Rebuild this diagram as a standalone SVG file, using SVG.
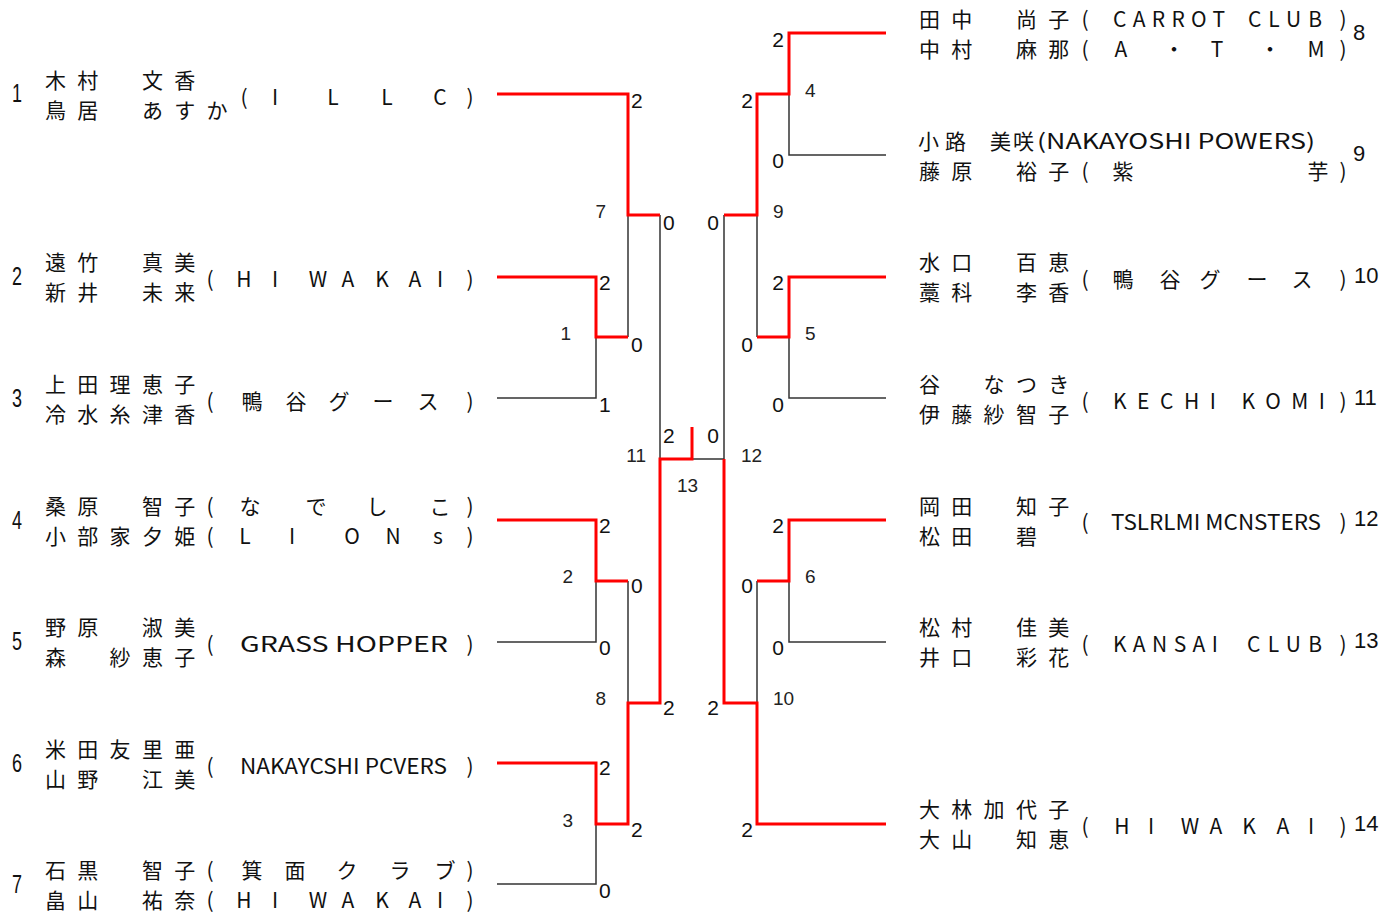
<svg xmlns="http://www.w3.org/2000/svg" width="1399" height="917" viewBox="0 0 1399 917">
<style>
.nm{font-family:"Noto Sans CJK JP","Noto Sans CJK SC",sans-serif;font-size:21px;fill:#111}
.tm{font-family:"Noto Sans CJK JP","Noto Sans CJK SC",sans-serif;font-size:21px;fill:#111;text-anchor:middle}
.tl{font-family:"Noto Sans CJK JP","Noto Sans CJK SC",sans-serif;font-size:21px;fill:#111}
.no{font-family:"Liberation Sans",Arial,sans-serif;font-size:25px;fill:#111}
.rn{font-family:"Liberation Sans",Arial,sans-serif;font-size:22px;fill:#111}
.sc{font-family:"Liberation Sans",Arial,sans-serif;font-size:21px;fill:#111}
.sr{font-family:"Liberation Sans",Arial,sans-serif;font-size:21px;fill:#111;text-anchor:end}
.mn{font-family:"Liberation Sans",Arial,sans-serif;font-size:19px;fill:#222}
.mr{font-family:"Liberation Sans",Arial,sans-serif;font-size:19px;fill:#222;text-anchor:end}
.red{stroke:#ff0000;stroke-width:3;fill:none;stroke-linejoin:miter}
.blk{stroke:#333;stroke-width:1.5;fill:none}
</style>
<rect width="1399" height="917" fill="#ffffff"/>

<g id="connectors">
  <polyline class="blk" points="497,398 596,398 596,337"/>
  <polyline class="blk" points="628,215 628,337"/>
  <polyline class="blk" points="660,215 660,459"/>
  <polyline class="blk" points="497,642 596,642 596,581"/>
  <polyline class="blk" points="628,581 628,703"/>
  <polyline class="blk" points="497,884 596,884 596,824"/>
  <polyline class="blk" points="692,459 724,459 724,215"/>
  <polyline class="blk" points="886,155 789,155 789,94"/>
  <polyline class="blk" points="757,215 757,337"/>
  <polyline class="blk" points="886,398 789,398 789,337"/>
  <polyline class="blk" points="886,642 789,642 789,581"/>
  <polyline class="blk" points="757,581 757,703"/>

  <polyline class="red" points="497,94 628,94 628,215 660,215"/>
  <polyline class="red" points="497,277 596,277 596,337 628,337"/>
  <polyline class="red" points="497,520 596,520 596,581 628,581"/>
  <polyline class="red" points="497,763 596,763 596,824 628,824 628,703 660,703 660,459 692,459 692,427"/>
  <polyline class="red" points="886,33 789,33 789,94 757,94 757,215 724,215"/>
  <polyline class="red" points="886,277 789,277 789,337 757,337"/>
  <polyline class="red" points="886,520 789,520 789,581 757,581"/>
  <polyline class="red" points="886,824 757,824 757,703 724,703 724,459"/>
</g>

<g id="scores">
  <text class="sc" x="631" y="108">2</text>
  <text class="sc" x="663" y="230">0</text>
  <text class="sc" x="599" y="290">2</text>
  <text class="sc" x="631" y="352">0</text>
  <text class="sc" x="599" y="412">1</text>
  <text class="sc" x="663" y="443">2</text>
  <text class="sr" x="719" y="443">0</text>
  <text class="sc" x="599" y="533">2</text>
  <text class="sc" x="631" y="593">0</text>
  <text class="sc" x="599" y="655">0</text>
  <text class="sc" x="663" y="715">2</text>
  <text class="sc" x="599" y="775">2</text>
  <text class="sc" x="631" y="837">2</text>
  <text class="sc" x="599" y="898">0</text>

  <text class="sr" x="784" y="47">2</text>
  <text class="sr" x="753" y="108">2</text>
  <text class="sr" x="784" y="168">0</text>
  <text class="sr" x="719" y="230">0</text>
  <text class="sr" x="784" y="290">2</text>
  <text class="sr" x="753" y="352">0</text>
  <text class="sr" x="784" y="412">0</text>
  <text class="sr" x="784" y="533">2</text>
  <text class="sr" x="753" y="593">0</text>
  <text class="sr" x="784" y="655">0</text>
  <text class="sr" x="719" y="715">2</text>
  <text class="sr" x="753" y="837">2</text>
</g>

<g id="match-numbers">
  <text class="mr" x="571" y="340">1</text>
  <text class="mr" x="573" y="583">2</text>
  <text class="mr" x="573" y="827">3</text>
  <text class="mr" x="606" y="218">7</text>
  <text class="mr" x="606" y="705">8</text>
  <text class="mr" x="646" y="462">11</text>
  <text class="mn" x="805" y="97">4</text>
  <text class="mn" x="805" y="340">5</text>
  <text class="mn" x="805" y="583">6</text>
  <text class="mn" x="773" y="218">9</text>
  <text class="mn" x="773" y="705">10</text>
  <text class="mn" x="741" y="462">12</text>
  <text class="mn" x="677" y="492">13</text>
</g>

<g id="entry-1">
  <text class="no" x="12" y="102" textLength="10" lengthAdjust="spacingAndGlyphs">1</text>
  <text class="nm" x="45 77.3 141.9 174.2" y="88">木村文香</text>
  <text class="nm" x="45 77.3 141.9 174.2 206.5" y="118">鳥居あすか</text>
  <text class="tm" x="244 275 333 387 440 470" y="105">(ILLC)</text>
</g>
<g id="entry-2">
  <text class="no" x="12" y="285" textLength="10" lengthAdjust="spacingAndGlyphs">2</text>
  <text class="nm" x="45 77.3 141.9 174.2" y="270">遠竹真美</text>
  <text class="nm" x="45 77.3 141.9 174.2" y="300">新井未来</text>
  <text class="tm" x="210 244 275 318 348 382 415 440 470" y="287">(HIWAKAI)</text>
</g>
<g id="entry-3">
  <text class="no" x="12" y="407" textLength="10" lengthAdjust="spacingAndGlyphs">3</text>
  <text class="nm" x="45 77.3 109.6 141.9 174.2" y="392">上田理恵子</text>
  <text class="nm" x="45 77.3 109.6 141.9 174.2" y="422">冷水糸津香</text>
  <text class="tm" x="210 252 296 339 383 428 470" y="409">(鴨谷グース)</text>
</g>
<g id="entry-4">
  <text class="no" x="12" y="529" textLength="10" lengthAdjust="spacingAndGlyphs">4</text>
  <text class="nm" x="45 77.3 141.9 174.2" y="514">桑原智子</text>
  <text class="nm" x="45 77.3 109.6 141.9 174.2" y="544">小部家夕姫</text>
  <text class="tm" x="210 250 316 377 440 470" y="514">(なでしこ)</text>
  <text class="tm" x="210 245 292 352 393 438 470" y="544">(LIONs)</text>
</g>
<g id="entry-5">
  <text class="no" x="12" y="650" textLength="10" lengthAdjust="spacingAndGlyphs">5</text>
  <text class="nm" x="45 77.3 141.9 174.2" y="635">野原淑美</text>
  <text class="nm" x="45 109.6 141.9 174.2" y="665">森紗恵子</text>
  <text class="tm" x="210" y="652">(</text>
  <text class="tl" x="240" y="652" textLength="208" lengthAdjust="spacingAndGlyphs">GRASS HOPPER</text>
  <text class="tm" x="470" y="652">)</text>
</g>
<g id="entry-6">
  <text class="no" x="12" y="772" textLength="10" lengthAdjust="spacingAndGlyphs">6</text>
  <text class="nm" x="45 77.3 109.6 141.9 174.2" y="757">米田友里亜</text>
  <text class="nm" x="45 77.3 141.9 174.2" y="787">山野江美</text>
  <text class="tm" x="210" y="774">(</text>
  <text class="tl" x="240" y="774" textLength="207" lengthAdjust="spacingAndGlyphs">NAKAYCSHI PCVERS</text>
  <text class="tm" x="470" y="774">)</text>
</g>
<g id="entry-7">
  <text class="no" x="12" y="893" textLength="10" lengthAdjust="spacingAndGlyphs">7</text>
  <text class="nm" x="45 77.3 141.9 174.2" y="878">石黒智子</text>
  <text class="nm" x="45 77.3 141.9 174.2" y="908">畠山祐奈</text>
  <text class="tm" x="210 252 295 347 400 445 470" y="878">(箕面クラブ)</text>
  <text class="tm" x="210 244 275 318 348 382 415 440 470" y="908">(HIWAKAI)</text>
</g>

<g id="entry-8">
  <text class="nm" x="919 951.3 1015.9 1048.2" y="27">田中尚子</text>
  <text class="nm" x="919 951.3 1015.9 1048.2" y="57">中村麻那</text>
  <text class="tm" x="1085" y="27">(</text>
  <text class="tl" x="1113" y="27" textLength="112" lengthAdjust="spacing">CARROT</text>
  <text class="tl" x="1248" y="27" textLength="74" lengthAdjust="spacing">CLUB</text>
  <text class="tm" x="1343" y="27">)</text>
  <text class="tm" x="1085 1121 1174 1217 1270 1316 1343" y="57">(A・T・M)</text>
  <text class="rn" x="1353" y="40">8</text>
</g>
<g id="entry-9">
  <text class="nm" x="918 945 990 1013" y="149">小路美咲</text>
  <text class="tl" x="1037" y="149" textLength="278" lengthAdjust="spacingAndGlyphs">(NAKAYOSHI POWERS)</text>
  <text class="nm" x="919 951.3 1015.9 1048.2" y="179">藤原裕子</text>
  <text class="tm" x="1085 1123 1318 1343" y="179">(紫芋)</text>
  <text class="rn" x="1353" y="161">9</text>
</g>
<g id="entry-10">
  <text class="nm" x="919 951.3 1015.9 1048.2" y="270">水口百恵</text>
  <text class="nm" x="919 951.3 1015.9 1048.2" y="300">藁科李香</text>
  <text class="tm" x="1085 1123 1170 1210 1257 1302 1343" y="287">(鴨谷グース)</text>
  <text class="rn" x="1354" y="283">10</text>
</g>
<g id="entry-11">
  <text class="nm" x="919 983.6 1015.9 1048.2" y="392">谷なつき</text>
  <text class="nm" x="919 951.3 983.6 1015.9 1048.2" y="422">伊藤紗智子</text>
  <text class="tm" x="1085" y="409">(</text>
  <text class="tl" x="1113" y="409" textLength="212" lengthAdjust="spacing">KECHI KOMI</text>
  <text class="tm" x="1343" y="409">)</text>
  <text class="rn" x="1354" y="405">11</text>
</g>
<g id="entry-12">
  <text class="nm" x="919 951.3 1015.9 1048.2" y="514">岡田知子</text>
  <text class="nm" x="919 951.3 1015.9" y="544">松田碧</text>
  <text class="tm" x="1085" y="530">(</text>
  <text class="tl" x="1111" y="530" textLength="210" lengthAdjust="spacingAndGlyphs">TSLRLMI MCNSTERS</text>
  <text class="tm" x="1343" y="530">)</text>
  <text class="rn" x="1354" y="526">12</text>
</g>
<g id="entry-13">
  <text class="nm" x="919 951.3 1015.9 1048.2" y="635">松村佳美</text>
  <text class="nm" x="919 951.3 1015.9 1048.2" y="665">井口彩花</text>
  <text class="tm" x="1085" y="652">(</text>
  <text class="tl" x="1113" y="652" textLength="105" lengthAdjust="spacing">KANSAI</text>
  <text class="tl" x="1247" y="652" textLength="75" lengthAdjust="spacing">CLUB</text>
  <text class="tm" x="1343" y="652">)</text>
  <text class="rn" x="1354" y="648">13</text>
</g>
<g id="entry-14">
  <text class="nm" x="919 951.3 983.6 1015.9 1048.2" y="817">大林加代子</text>
  <text class="nm" x="919 951.3 1015.9 1048.2" y="847">大山知恵</text>
  <text class="tm" x="1085 1122 1151 1190 1216 1249 1283 1311 1343" y="834">(HIWAKAI)</text>
  <text class="rn" x="1354" y="831">14</text>
</g>
</svg>
